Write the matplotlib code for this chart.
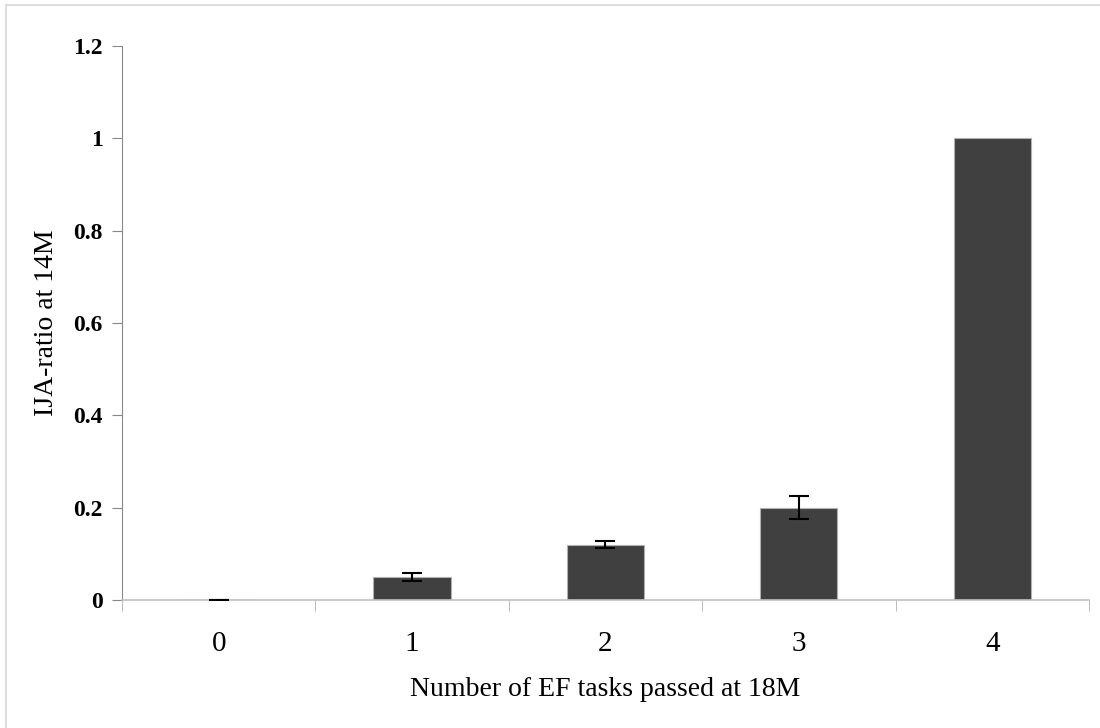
import matplotlib.pyplot as plt
import numpy as np
from matplotlib.lines import Line2D

categories = ["0", "1", "2", "3", "4"]
values = [0.0, 0.05, 0.12, 0.2, 1.0]
errors = [0.0, 0.009, 0.007, 0.025, None]
y_ticks = [0, 0.2, 0.4, 0.6, 0.8, 1, 1.2]
y_tick_labels = ["0", "0.2", "0.4", "0.6", "0.8", "1", "1.2"]

plt.rcParams["font.family"] = ["Liberation Serif", "DejaVu Serif"]

fig = plt.figure(figsize=(11, 7.28), dpi=100)
ax = fig.add_axes([0.1109, 0.1758, 0.879, 0.761])

x = np.arange(len(categories))
ax.bar(x, values, width=0.4, color="#404040", edgecolor="#b0b0b0", linewidth=0.8, zorder=2)

err_x = [xi for xi, e in zip(x, errors) if e is not None]
err_y = [v for v, e in zip(values, errors) if e is not None]
err_v = [e for e in errors if e is not None]
ax.errorbar(err_x, err_y, yerr=err_v, fmt="none", ecolor="black",
            elinewidth=1.5, capsize=7, capthick=1.5, zorder=3)

ax.set_xlim(-0.5, len(categories) - 0.5)
ax.set_ylim(0, 1.2)
ax.set_yticks(y_ticks)
ax.set_yticklabels(y_tick_labels, fontsize=17, fontweight="bold")
ax.set_xticks(x)
ax.set_xticklabels(categories, fontsize=21)
ax.set_xticks(np.arange(len(categories) + 1) - 0.5, minor=True)
ax.tick_params(axis="x", which="major", length=0, pad=22)
ax.tick_params(axis="x", which="minor", length=8, color="#b0b0b0", direction="out")
ax.tick_params(axis="y", length=7, color="#888888", pad=7)

for s in ["top", "right"]:
    ax.spines[s].set_visible(False)
ax.spines["left"].set_color("#888888")
ax.spines["bottom"].set_color("#c0c0c0")
ax.spines["bottom"].set_linewidth(1.2)

ax.set_xlabel("Number of EF tasks passed at 18M", fontsize=20, labelpad=15)
ax.set_ylabel("IJA-ratio at 14M", fontsize=20, labelpad=10)

# thin frame lines at top and left of the figure
fig.add_artist(Line2D([0.0055, 1], [0.993, 0.993], color="#d8d8d8", lw=1.2))
fig.add_artist(Line2D([0.0055, 0.0055], [0, 0.993], color="#d8d8d8", lw=1.2))

fig.savefig("out.png", dpi=100, facecolor="white")
